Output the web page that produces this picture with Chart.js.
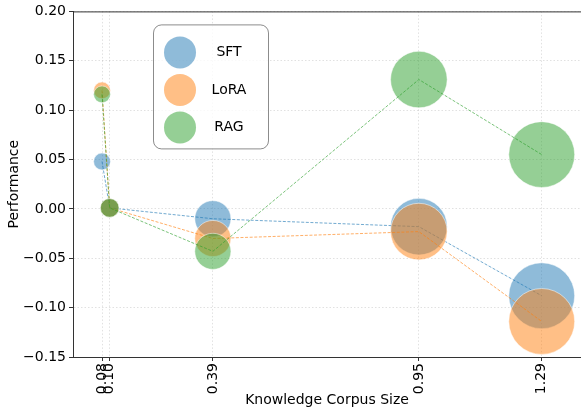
<!DOCTYPE html>
<html>
<head>
<meta charset="utf-8">
<script src="https://cdn.jsdelivr.net/npm/chart.js@4.4.1/dist/chart.umd.min.js"></script>
<style>
    html, body { margin: 0; padding: 0; background: #fff; overflow: hidden; }
    #chart { display: block; }
</style>
</head>
<body>
<canvas id="chart" width="581" height="410"></canvas>
<script>
// Values
const corpusSizes = [0.084, 0.105, 0.388, 0.953, 1.29];
const sftScores = [0.048, 0.001, -0.010, -0.018, -0.088];
const loraScores = [0.120, 0.001, -0.030, -0.023, -0.114];
const ragScores = [0.116, 0.001, -0.043, 0.131, 0.055];
const methodNames = ['SFT', 'LoRA', 'RAG'];
const xTickLabels = ['0.08', '0.10', '0.39', '0.95', '1.29'];
const yTickValues = [-0.15, -0.10, -0.05, 0.00, 0.05, 0.10, 0.15, 0.20];

document.addEventListener('DOMContentLoaded', function () {
    Chart.defaults.font.family = "'DejaVu Sans', sans-serif";
    Chart.defaults.font.size = 14;
    Chart.defaults.color = '#000';

    // tab10 colours
    const baseColors = ['31, 119, 180', '255, 127, 14', '44, 160, 44'];
    const scoreLists = [sftScores, loraScores, ragScores];

    // bubble area grows with corpus size
    function bubbleRadius(size) {
        return 29 * Math.sqrt(size);
    }

    function fmt(v) {
        const s = Math.abs(v).toFixed(2);
        return v < -1e-9 ? '\u2212' + s : s;
    }

    const datasets = [];
    methodNames.forEach(function (name, i) {
        const rgb = baseColors[i];
        datasets.push({
            type: 'bubble',
            label: name,
            data: corpusSizes.map((x, j) => ({ x: x, y: scoreLists[i][j], r: bubbleRadius(x) })),
            backgroundColor: 'rgba(' + rgb + ', 0.5)',
            borderColor: 'rgba(255, 255, 255, 0.5)',
            borderWidth: 1,
            order: 10 - i * 2
        });
        datasets.push({
            type: 'line',
            label: name + ' line',
            data: corpusSizes.map((x, j) => ({ x: x, y: scoreLists[i][j] })),
            borderColor: 'rgba(' + rgb + ', 0.7)',
            borderWidth: 0.9,
            borderDash: [3, 1.6],
            pointRadius: 0,
            fill: false,
            tension: 0,
            order: 9 - i * 2
        });
    });

    // top spine + legend box drawn inside the axes
    const framePlugin = {
        id: 'framePlugin',
        afterDraw(chart) {
            const ctx = chart.ctx;
            const area = chart.chartArea;
            ctx.save();
            ctx.strokeStyle = '#333';
            ctx.lineWidth = 1;
            ctx.beginPath();
            ctx.moveTo(area.left, area.top + 0.5);
            ctx.lineTo(area.right, area.top + 0.5);
            ctx.stroke();

            // legend
            const bx = area.left + 80, by = area.top + 13, bw = 115, bh = 124;
            ctx.beginPath();
            ctx.roundRect(bx + 0.5, by + 0.5, bw, bh, 8);
            ctx.fillStyle = 'rgba(255, 255, 255, 0.8)';
            ctx.fill();
            ctx.strokeStyle = 'rgba(0, 0, 0, 0.45)';
            ctx.lineWidth = 1;
            ctx.stroke();

            methodNames.forEach(function (name, i) {
                const cy = by + 28 + i * 37.5;
                ctx.beginPath();
                ctx.arc(bx + 27, cy, 16, 0, Math.PI * 2);
                ctx.fillStyle = 'rgba(' + baseColors[i] + ', 0.5)';
                ctx.fill();
                ctx.fillStyle = '#000';
                ctx.font = "14px 'DejaVu Sans', sans-serif";
                ctx.textAlign = 'center';
                ctx.textBaseline = 'middle';
                ctx.fillText(name, bx + 76, cy);
            });
            ctx.restore();
        }
    };

    const gridColor = 'rgba(0, 0, 0, 0.15)';

    new Chart(document.getElementById('chart'), {
        type: 'bubble',
        data: { datasets: datasets },
        options: {
            responsive: false,
            animation: false,
            events: [],
            layout: { autoPadding: false, padding: { top: 11, right: 0, left: 0, bottom: 0 } },
            plugins: {
                legend: { display: false },
                tooltip: { enabled: false }
            },
            scales: {
                x: {
                    type: 'linear',
                    min: 0.0044,
                    max: 1.3977,
                    afterBuildTicks: function (scale) {
                        scale.ticks = corpusSizes.map(v => ({ value: v }));
                    },
                    afterFit: function (scale) {
                        scale.height = 53;
                    },
                    ticks: {
                        autoSkip: false,
                        minRotation: 90,
                        maxRotation: 90,
                        padding: 2,
                        color: '#000',
                        callback: (v, idx) => xTickLabels[idx]
                    },
                    grid: {
                        color: gridColor,
                        lineWidth: 0.8,
                        tickColor: '#333',
                        tickLength: 4,
                        tickBorderDash: [],
                        tickWidth: 1
                    },
                    border: { display: true, color: '#333', width: 1, dash: [1.5, 2] },
                    title: {
                        display: true,
                        text: 'Knowledge Corpus Size',
                        padding: { top: 0, bottom: 1 },
                        color: '#000'
                    }
                },
                y: {
                    type: 'linear',
                    min: -0.15,
                    max: 0.20,
                    afterBuildTicks: function (scale) {
                        scale.ticks = yTickValues.map(v => ({ value: v }));
                    },
                    afterFit: function (scale) {
                        scale.width = 73;
                    },
                    ticks: {
                        padding: 3,
                        color: '#000',
                        callback: v => fmt(v)
                    },
                    grid: {
                        color: gridColor,
                        lineWidth: 0.8,
                        tickColor: '#333',
                        tickLength: 4,
                        tickBorderDash: [],
                        tickWidth: 1
                    },
                    border: { display: true, color: '#333', width: 1, dash: [1.5, 2] },
                    title: {
                        display: true,
                        text: 'Performance',
                        padding: { top: 6, bottom: 0 },
                        color: '#000'
                    }
                }
            }
        },
        plugins: [framePlugin]
    });
});
</script>
</body>
</html>
